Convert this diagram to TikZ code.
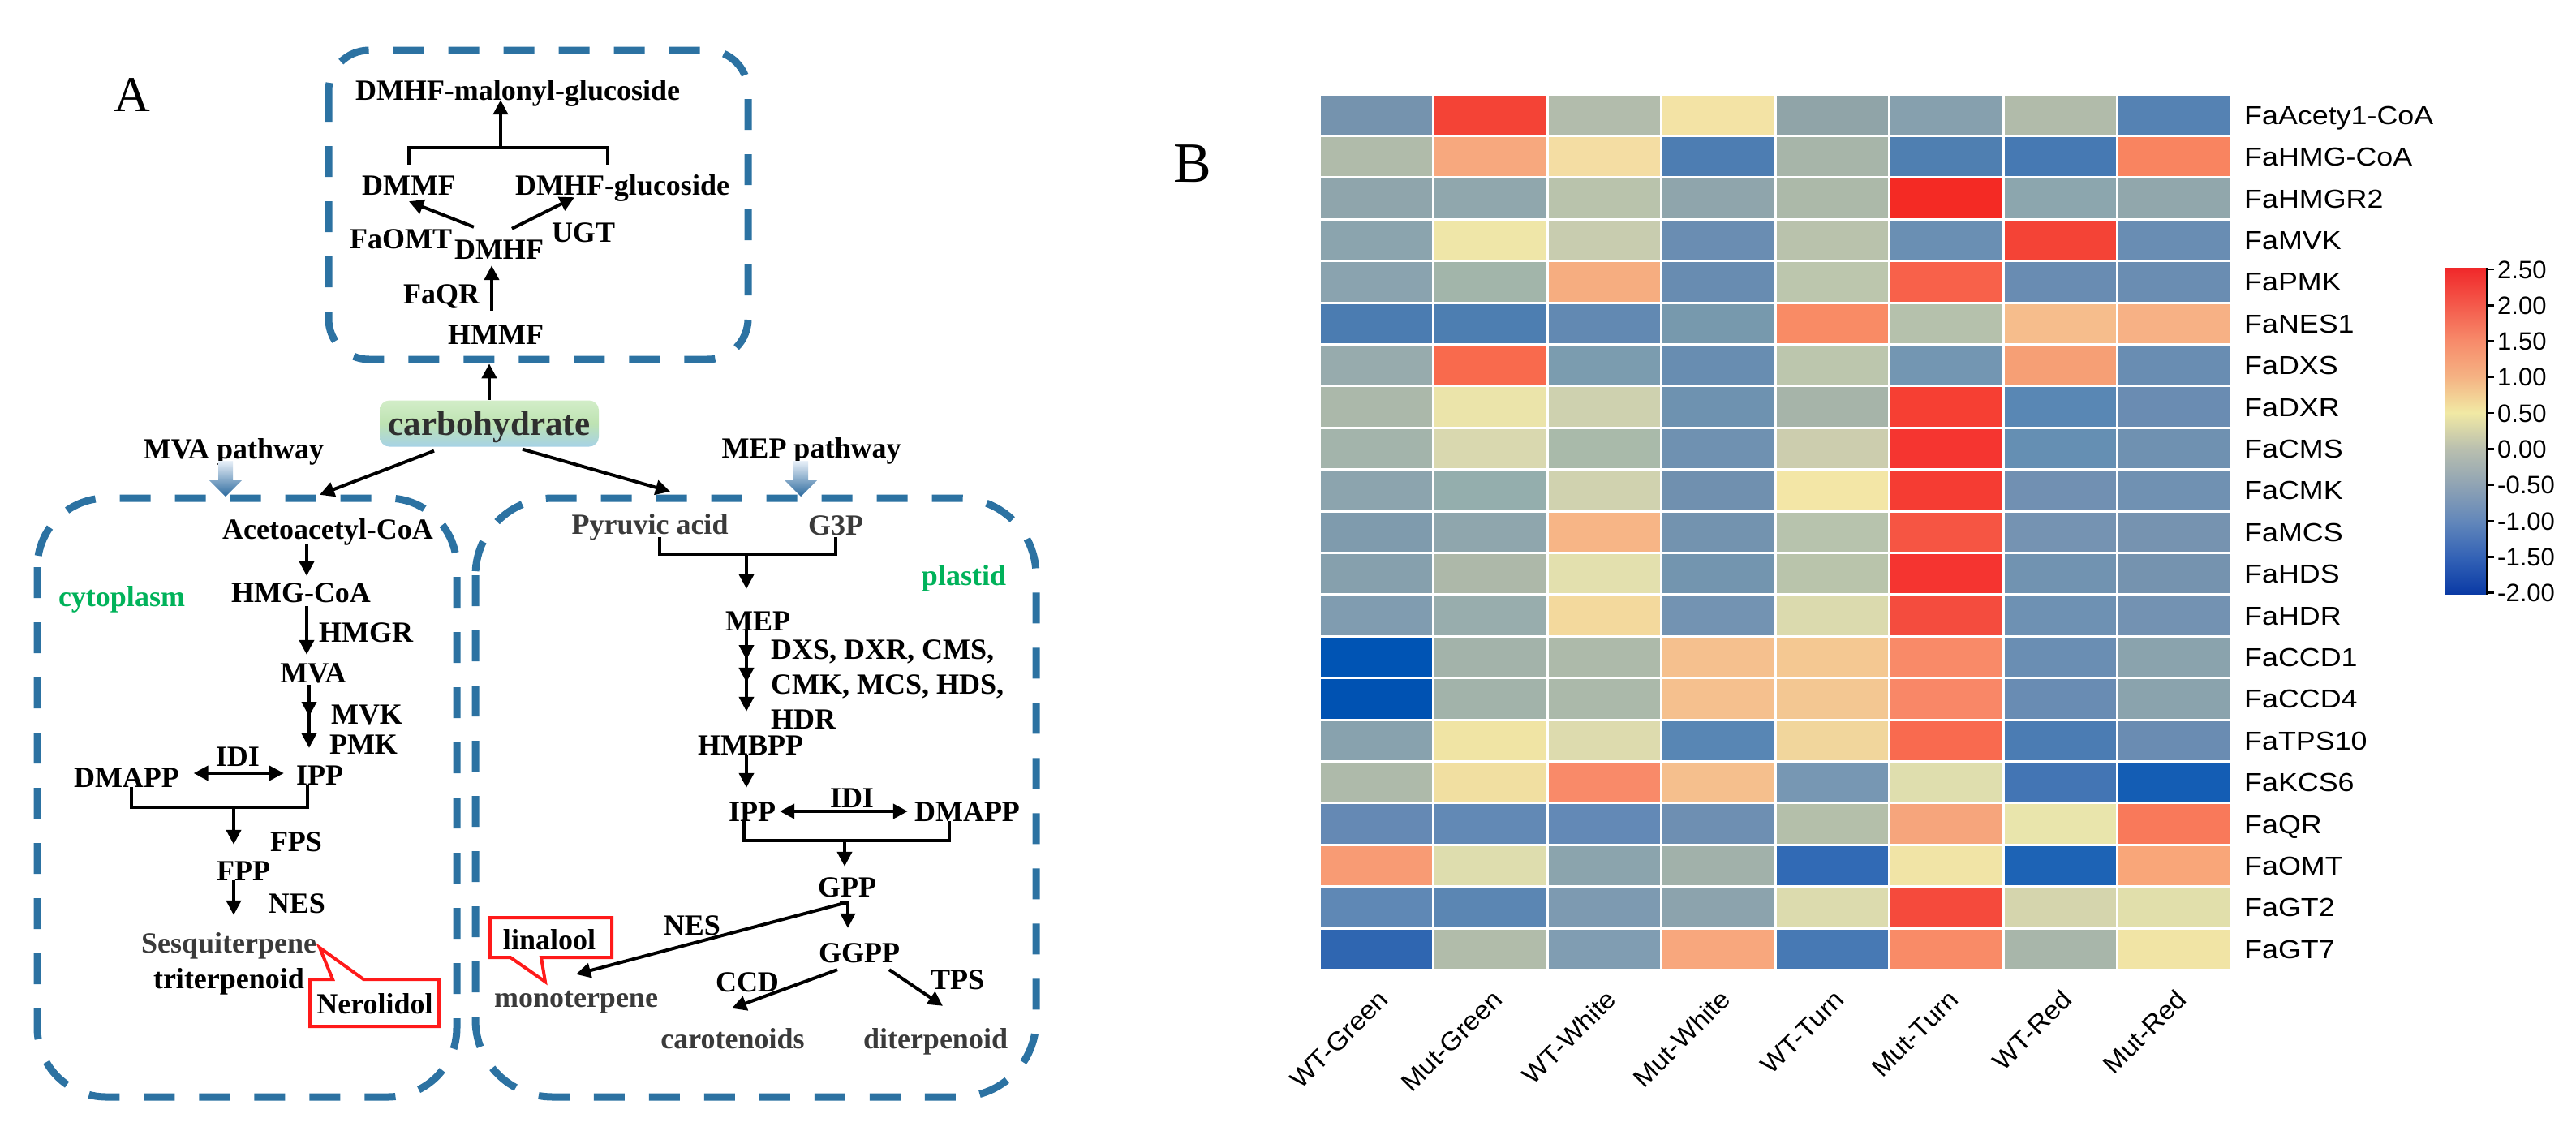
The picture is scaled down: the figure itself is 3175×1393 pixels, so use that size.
\documentclass[tikz,border=0pt]{standalone}
\usepackage{fontspec}
\setmainfont{Liberation Serif}
\newfontfamily\hmfont[FakeStretch=1.12]{Liberation Sans}
\newfontfamily\clfont[FakeStretch=1.05]{Liberation Sans}
\newfontfamily\tkfont{Liberation Sans}
\usetikzlibrary{arrows.meta,decorations.markings}
\newcommand\fsz[1]{\fontsize{#1}{#1}\selectfont}
\definecolor{boxblue}{RGB}{44,114,162}
\definecolor{grnt}{HTML}{00B25A}
\definecolor{dgray}{HTML}{3A3A3A}
\definecolor{cText}{HTML}{2F2F2F}
\definecolor{cTop}{HTML}{D2EDC8}
\definecolor{cMid}{HTML}{BEE3B2}
\definecolor{cBot}{HTML}{A6D2E6}
\definecolor{barTop}{HTML}{EAF1F9}
\definecolor{barBot}{HTML}{2C6A9E}
\definecolor{calred}{HTML}{FF1A1A}
\definecolor{cb0}{HTML}{0A3AA5}
\definecolor{cb1}{HTML}{3362B6}
\definecolor{cb2}{HTML}{6287BA}
\definecolor{cb3}{HTML}{8FA3B4}
\definecolor{cb4}{HTML}{B9BFAF}
\definecolor{cb5}{HTML}{F1E9A4}
\definecolor{cb6}{HTML}{F5B283}
\definecolor{cb7}{HTML}{F78A6A}
\definecolor{cb8}{HTML}{F4584A}
\definecolor{cb9}{HTML}{F0282A}
\pgfdeclareverticalshading{cbar}{100bp}{color(0bp)=(cb0); color(25bp)=(cb0); color(30.56bp)=(cb1); color(36.11bp)=(cb2); color(41.67bp)=(cb3); color(47.22bp)=(cb4); color(52.78bp)=(cb5); color(58.33bp)=(cb6); color(63.89bp)=(cb7); color(69.44bp)=(cb8); color(75bp)=(cb9); color(100bp)=(cb9)}
\tikzset{
  t/.style={font=\fsz{36}\bfseries, inner sep=0pt, text height=24pt, text depth=0pt},
  gt/.style={t, text=dgray},
  grn/.style={t, text=grnt},
  arr/.style={line width=4pt, -{Triangle[length=18pt,width=18pt]}},
  darr/.style={line width=4pt, {Triangle[length=18pt,width=18pt]}-{Triangle[length=18pt,width=18pt]}},
  brk/.style={line width=4.5pt},
  dbox/.style={draw=boxblue, line width=9pt, dash pattern=on 38pt off 30pt},
  callout/.style={draw=calred, fill=white, line width=4pt, line join=miter},
  hlab/.style={font=\hmfont\fsz{32}, inner sep=0pt, text height=23pt, text depth=0pt},
  clab/.style={font=\clfont\fsz{32}, inner sep=0pt},
  tlab/.style={font=\tkfont\fsz{31}, inner sep=0pt, text height=22pt, text depth=0pt},
}
\begin{document}
\begin{tikzpicture}[x=1pt,y=-1pt]
\fill[white] (0,0) rectangle (3175,1393);
\useasboundingbox (0,0) rectangle (3175,1393);

% ---------- dashed compartments ----------
\draw[dbox, rounded corners=50pt] (405,62) rectangle (922,443);
\draw[dbox, rounded corners=85pt] (46,614) rectangle (563,1352);
\draw[dbox, rounded corners=95pt] (586,614) rectangle (1277,1352);

% ---------- panel label ----------
\node[font=\fsz{62}, inner sep=0pt, text height=41pt, text depth=0pt] (lblA) at (163,117) {A};
\node[font=\fsz{70}, inner sep=0pt, text height=46pt, text depth=0pt] (lblB) at (1470,201) {B};

% ---------- top box ----------
\node[t] (dmhfmg) at (638,111) {DMHF-malonyl-glucoside};
\node[t] (dmmf) at (504,228) {DMMF};
\node[t] (dmhfglu) at (767,228) {DMHF-glucoside};
\node[t] (faomt) at (494,294) {FaOMT};
\node[t] (dmhf) at (615,307) {DMHF};
\node[t] (ugt) at (719,286) {UGT};
\node[t] (faqr) at (544,362) {FaQR};
\node[t] (hmmf) at (611,412) {HMMF};

\draw[brk] ([yshift=13pt]dmmf.north) -- ++(0,-21) -| ([xshift=-18pt,yshift=13pt]dmhfglu.north);
\coordinate (topjn) at (617,182);
\draw[arr] (topjn) -- (topjn |- dmhfmg.south);
\draw[arr] ([xshift=-31pt,yshift=15pt]dmhf.north) -- ([yshift=-8pt]dmmf.south);
\draw[arr] ([xshift=16pt,yshift=13pt]dmhf.north) -- ([xshift=-59pt,yshift=-3pt]dmhfglu.south);
\draw[arr] ([xshift=-5pt,yshift=17pt]hmmf.north) -- ([xshift=-9pt,yshift=-8pt]dmhf.south);

% ---------- carbohydrate ----------
\node[rounded corners=12pt, top color=cTop, bottom color=cBot, middle color=cMid,
      minimum width=270pt, minimum height=57pt, inner sep=0pt, text height=29pt, text depth=0pt,
      font=\fsz{43}\bfseries, text=cText] (carb) at (603,522) {carbohydrate};

% ---------- pathway labels and block arrows ----------
\node[t] (mvapw) at (288,553) {MVA pathway};
\node[t] (meppw) at (1000,552) {MEP pathway};
\shade[top color=barTop, bottom color=barBot] (269,568) -- (287,568) -- (287,592) -- (298,592) -- (278,612) -- (258,592) -- (269,592) -- cycle;
\shade[top color=barTop, bottom color=barBot] (978,568) -- (996,568) -- (996,592) -- (1007,592) -- (987,612) -- (967,592) -- (978,592) -- cycle;

% ---------- cytoplasm ----------
\node[t] (acet) at (404,652) {Acetoacetyl-CoA};
\node[grn] (cyto) at (150,735) {cytoplasm};
\node[t] (hmg) at (371,730) {HMG-CoA};
\node[t] (hmgr) at (451,779) {HMGR};
\node[t] (mva) at (386,829) {MVA};
\node[t] (mvk) at (452,880) {MVK};
\node[t] (pmk) at (448,917) {PMK};
\node[t] (ipp) at (394,955) {IPP};
\node[t] (dmapp) at (156,958) {DMAPP};
\node[t] (idi) at (293,932) {IDI};
\node[t] (fps) at (365,1037) {FPS};
\node[t] (fpp) at (300,1073) {FPP};
\node[t] (nes) at (366,1113) {NES};
\node[gt] (sesq) at (282,1162) {Sesquiterpene};
\node[t] (trit) at (282,1206) {triterpenoid};

\draw[arr] ([xshift=-26pt,yshift=-7pt]acet.south) -- ([xshift=7pt,yshift=8pt]hmg.north);
\draw[arr] ([xshift=7pt,yshift=-5pt]hmg.south) -- ([xshift=-8pt,yshift=10pt]mva.north);
\draw[arr, postaction={decorate}, decoration={markings, mark=at position 0.5 with {\arrow{Triangle[length=18pt,width=18pt]}}}]
  ([xshift=-5pt,yshift=-3pt]mva.south) -- ([xshift=-13pt,yshift=21pt]ipp.north);
\draw[darr] ([xshift=17.5pt,yshift=5pt]dmapp.east) -- ([xshift=-15pt,yshift=2pt]ipp.west);
\draw[brk] ([xshift=6pt]dmapp.south) -- ++(0,25) -| ([xshift=-15pt]ipp.south);
\coordinate (cyjn) at (288,995);
\draw[arr] (cyjn) -- ([xshift=-12pt,yshift=20pt]fpp.north);
\draw[arr] ([xshift=-12pt]fpp.south) -- ([xshift=6pt,yshift=22pt]sesq.north);

\draw[callout] (382,1207) -- (410,1207) -- (394,1168) -- (448,1207) -- (541,1207) -- (541,1265) -- (382,1265) -- cycle;
\node[t] (nero) at (462,1237) {Nerolidol};

% ---------- plastid ----------
\node[gt] (pyr) at (801,646) {Pyruvic acid};
\node[gt] (g3p) at (1030,647) {G3P};
\node[grn] (plas) at (1188,709) {plastid};
\node[t] (mep) at (934,765) {MEP};
\node[t, anchor=west] (enz1) at (950,800) {DXS, DXR, CMS,};
\node[t, anchor=west] (enz2) at (950,843) {CMK, MCS, HDS,};
\node[t, anchor=west] (enz3) at (950,886) {HDR};
\node[t] (hmbpp) at (925,918) {HMBPP};
\node[t] (ipp2) at (927,1000) {IPP};
\node[t] (idi2) at (1050,983) {IDI};
\node[t] (dmapp2) at (1192,1000) {DMAPP};
\node[t] (gpp) at (1044,1093) {GPP};
\node[t] (nes2) at (853,1140) {NES};
\node[gt] (mono) at (710,1229) {monoterpene};
\node[t] (ggpp) at (1059,1174) {GGPP};
\node[t] (ccd) at (921,1210) {CCD};
\node[t] (tps) at (1180,1207) {TPS};
\node[gt] (carot) at (903,1280) {carotenoids};
\node[gt] (diterp) at (1153,1280) {diterpenoid};

\draw[arr] (carb.north) -- ([yshift=45pt]carb.north);
\draw[arr] ([xshift=-68pt,yshift=-5pt]carb.south) -- ([xshift=-10pt,yshift=30pt]acet.north);
\draw[arr] ([xshift=41pt,yshift=-3pt]carb.south) -- ([xshift=25pt,yshift=28pt]pyr.north);

\draw[brk] ([xshift=12pt,yshift=-4pt]pyr.south) -- ++(0,21) -| ([yshift=-3pt]g3p.south);
\coordinate (pljn) at (920,683);
\draw[arr] (pljn) -- ([xshift=-14pt,yshift=27pt]mep.north);
\draw[arr, postaction={decorate}, decoration={markings,
    mark=at position 0.36 with {\arrow{Triangle[length=18pt,width=18pt]}},
    mark=at position 0.64 with {\arrow{Triangle[length=18pt,width=18pt]}}}]
  ([xshift=-14pt]mep.south) -- ([xshift=-5pt,yshift=29pt]hmbpp.north);
\draw[arr] ([xshift=-5pt]hmbpp.south) -- ([xshift=-7pt,yshift=17pt]ipp2.north);
\draw[darr] ([xshift=5pt]ipp2.east) -- ([xshift=-8pt]dmapp2.west);
\draw[brk] ([xshift=-10pt]ipp2.south) -- ++(0,24) -| ([xshift=-22pt]dmapp2.south);
\coordinate (pljn2) at (1041,1036);
\draw[arr] (pljn2) -- ([xshift=-3pt,yshift=13pt]gpp.north);
\coordinate (gppjn) at ([xshift=1pt,yshift=-8pt]gpp.south);
\draw[arr] ([xshift=-10pt]gppjn) -- (gppjn) -- ([xshift=-14pt,yshift=18pt]ggpp.north);
\draw[arr] ([xshift=-5pt]gppjn) -- ([yshift=16pt]mono.north);
\draw[arr] ([xshift=-27pt,yshift=-9pt]ggpp.south) -- ([xshift=-1pt,yshift=25pt]carot.north);
\draw[arr] ([xshift=37pt,yshift=-9pt]ggpp.south) -- ([xshift=9pt,yshift=28pt]diterp.north);

\draw[callout] (604,1131) -- (754,1131) -- (754,1180) -- (667,1180) -- (672,1210) -- (629,1180) -- (604,1180) -- cycle;
\node[t] (lina) at (677,1158) {linalool};

% ---------- heatmap ----------
\def\hx{1626}\def\hy{116}\def\cw{140.5}\def\rh{51.4}
\foreach \hex [count=\n from 0] in {%
7593AE,F44336,B2BCAC,F3E3A5,90A4A8,86A0AE,B1BBAA,5582B3,%
B0BBAA,F7A87E,F4DDA3,4D7DB2,A7B5A9,4F7FB1,4679B3,F98460,%
8FA5AC,90A7AD,B9C3AC,8FA5AC,ACB9A9,F42A24,8CA6AE,91A7AC,%
8BA4AE,EFE6A8,C8CCAF,6A8DB2,B9C2AC,6A8FB3,F44336,698DB3,%
8AA3AF,A2B5AA,F6AD80,688CB1,BCC6AD,F8614A,698CB2,6A8DB2,%
4B7CB1,4D7EB1,6289B2,7799AD,F98B65,B5C1AC,F6BD8C,F7B185,%
97ABAD,F96A4D,7B9CAF,688DB1,BCC6AD,7396B2,F69F75,698DB2,%
ABB8AA,EBE4AA,CED1AF,6E92B0,A6B4A9,F63F33,5987B4,6A8CB2,%
A3B4AB,D9D8AF,A9BAAA,6F91B1,CCCDAE,F53530,658FB3,6F91B1,%
8CA4AE,94AEAD,D0D2AF,7090AF,F3E6A6,F53C33,7190B2,7091B2,%
7F9BAD,8FA6AD,F7B586,7393AF,B7C3AD,F65543,7593B2,7693B0,%
86A0AD,ADB8A9,E3E0AE,7395AF,B9C4AB,F53430,7193B1,7593AF,%
809CB0,98ADAD,F3D99D,7393B2,DBDAAE,F44C3E,6E91B3,7392B2,%
0054B4,A3B3AA,ADBAAA,F5C08E,F4C892,F98A68,6A8EB3,8AA3AD,%
0052B2,A2B3AA,ABB9AA,F5C08E,F3C792,F98767,698CB3,8AA3AD,%
88A2AE,F0E4A4,DDDBAE,5886B4,F1D69C,F96A4F,4B7CB3,6A8CB2,%
AEBAAA,F1DFA1,F98A69,F5BF8D,7797B3,DFDEAE,4375B4,145DB4,%
6589B4,6289B5,6389B6,6E8FB2,B4BFAA,F6A57C,E9E5AC,F9795A,%
F89B74,DEDDAE,8BA4AD,A1B1AA,316AB5,F1E4A6,1D63B5,F9A679,%
5F88B5,5B86B3,7D9AB1,8CA3AD,DCDBAE,F54A3C,D5D5AD,E1DFAB,%
2F66B1,B1BCAA,809DB2,F8A77D,4779B4,F98B67,A8B6AA,F1E4A5%
}{
  \pgfmathtruncatemacro\rr{\n/8}
  \pgfmathtruncatemacro\cc{\n-8*\rr}
  \edef\tmpcol{\noexpand\definecolor{cellc}{HTML}{\hex}}\tmpcol
  \fill[cellc, draw=white, line width=3pt] ({\hx+\cc*\cw},{\hy+\rr*\rh}) rectangle ++(\cw,\rh);
}
\foreach \lab [count=\n from 0] in {FaAcety1-CoA,FaHMG-CoA,FaHMGR2,FaMVK,FaPMK,FaNES1,FaDXS,FaDXR,FaCMS,FaCMK,FaMCS,FaHDS,FaHDR,FaCCD1,FaCCD4,FaTPS10,FaKCS6,FaQR,FaOMT,FaGT2,FaGT7}{
  \node[hlab, anchor=west] (rl\n) at (2766,{\hy+(\n+0.5)*\rh}) {\lab};
}
\foreach \lab [count=\n from 0] in {WT-Green,Mut-Green,WT-White,Mut-White,WT-Turn,Mut-Turn,WT-Red,Mut-Red}{
  \node[clab, rotate=45, anchor=base east] (cl\n) at ({\hx+(\n+0.5)*\cw+17},1234) {\lab};
}

% ---------- colour bar ----------
\shade[shading=cbar] (3013,330) rectangle (3065,732);
\draw[line width=3pt] (3065,330) -- (3065,733);
\foreach \v [count=\n from 0] in {2.50,2.00,1.50,1.00,0.50,0.00,-0.50,-1.00,-1.50,-2.00}{
  \draw[line width=2.5pt] (3065,{332+\n*44.3}) -- ++(9,0);
  \node[tlab, anchor=west] (tk\n) at (3078,{332+\n*44.3}) {\v};
}
\end{tikzpicture}
\end{document}
